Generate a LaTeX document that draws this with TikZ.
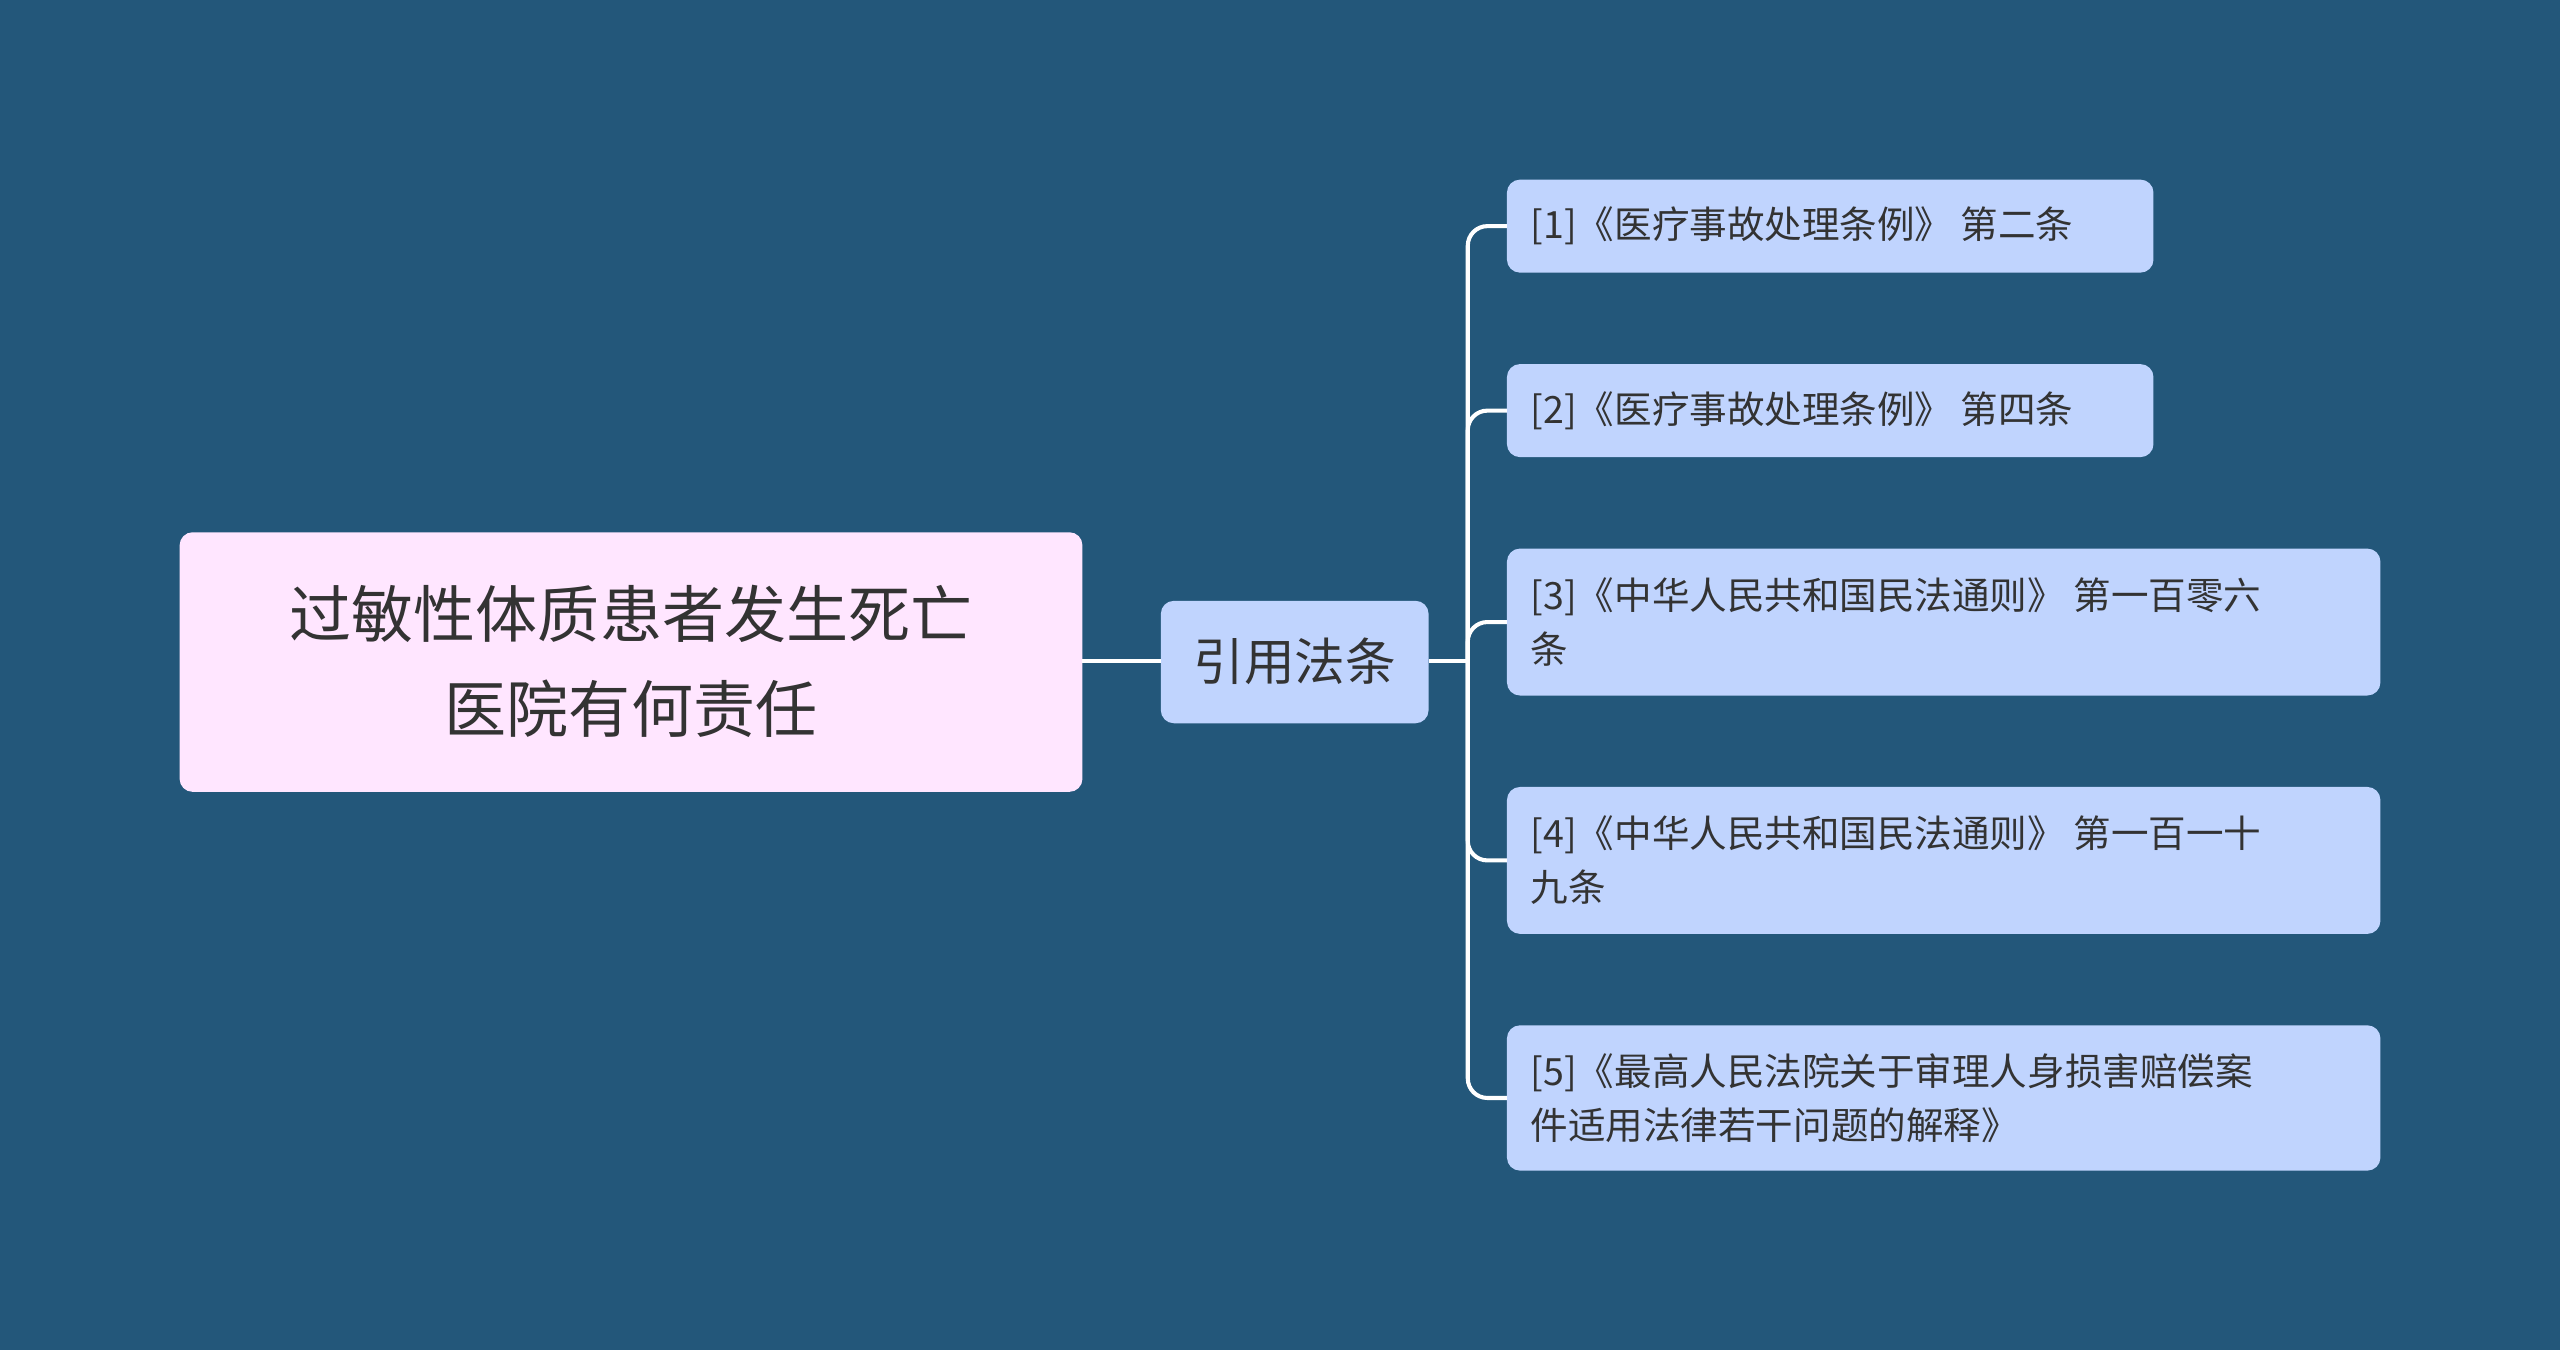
\documentclass[tikz,border=0pt]{standalone}
\usepackage{fontspec}
\setmainfont{Noto Sans CJK SC}
\begin{document}
\begin{tikzpicture}[x=1pt,y=-1pt,
  box/.style={draw=none,rounded corners=7pt,text=black!80},
  leaf/.style={box,fill=cBlue,anchor=north west,align=left,inner sep=0pt,font=\fontsize{23}{32}\selectfont},
  conn/.style={draw=white,line width=2.5pt}]
\definecolor{bg}{HTML}{23577A}
\definecolor{cBlue}{HTML}{C0D4FE}
\definecolor{cPink}{HTML}{FFE6FF}
\fill[bg] (0,0) rectangle (1568,827);
\useasboundingbox (0,0) rectangle (1568,827);
\fill[cPink,rounded corners=8pt] (110,326) rectangle (663,485);
\node[text=black!80,align=center,font=\fontsize{38}{58}\selectfont] (root) at (386.5,405) {过敏性体质患者发生死亡\\医院有何责任};
\coordinate (rootE) at (663,405);
\fill[cBlue,rounded corners=8pt] (711,368) rectangle (875,443);
\node[text=black!80,font=\fontsize{31}{36}\selectfont] (mid) at (793,405) {引用法条};
\coordinate (midW) at (711,405);
\coordinate (midE) at (875,405);
\draw[conn] (rootE) -- (midW);
\coordinate (br) at (899,405);
\draw[conn] (midE) -- (br);
\foreach \i/\ya/\yb/\xb in {1/110/167/1319,2/223/280/1319,3/336/426/1458,4/482/572/1458,5/628/717/1458}{
  \fill[cBlue,rounded corners=8pt] (923,\ya) rectangle (\xb,\yb);
  \coordinate (c\i) at (923,{(\ya+\yb)/2});
  \draw[conn,rounded corners=12pt] (br) |- (c\i);
}
\node[anchor=west,text=black!80,font=\fontsize{23}{32}\selectfont] (t1) at (934,138.5) {[1]《医疗事故处理条例》 第二条};
\node[anchor=west,text=black!80,font=\fontsize{23}{32}\selectfont] (t2) at (934,251.5) {[2]《医疗事故处理条例》 第四条};
\node[anchor=west,align=left,text=black!80,font=\fontsize{23}{33}\selectfont] (t3) at (934,381) {[3]《中华人民共和国民法通则》 第一百零六\\条};
\node[anchor=west,align=left,text=black!80,font=\fontsize{23}{33}\selectfont] (t4) at (934,527) {[4]《中华人民共和国民法通则》 第一百一十\\九条};
\node[anchor=west,align=left,text=black!80,font=\fontsize{23}{33}\selectfont] (t5) at (934,672.5) {[5]《最高人民法院关于审理人身损害赔偿案\\件适用法律若干问题的解释》};
\end{tikzpicture}
\end{document}
